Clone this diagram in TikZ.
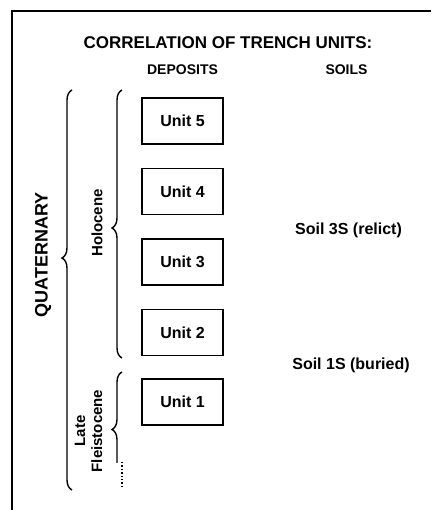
\documentclass[tikz,border=0pt]{standalone}
\usepackage{fontspec}
\setmainfont{Liberation Sans}
\usetikzlibrary{decorations.pathreplacing}

\begin{document}
\begin{tikzpicture}
    [x=1pt,y=1pt,
     epoch/.style={decorate,decoration={brace,amplitude=10pt},line width=1.4pt},
     unitbox/.style={draw,line width=1.6pt,minimum width=81pt,minimum height=46pt}]
\useasboundingbox (0,0) rectangle (431,-510);
\draw
    [line width=2pt]
    (12,-510) -- (12,-11) -- (431,-11);

\path
    [font=\bfseries\fontsize{14}{17}\selectfont]
    (228,-43) node [font=\bfseries\fontsize{17}{20}\selectfont] (title)
	{CORRELATION OF TRENCH UNITS:}
    (182.5,-70) node (deposits) {DEPOSITS}
    (346.5,-70) node (soils) {SOILS};

\path
    [font=\bfseries\fontsize{16}{19}\selectfont,below]
    (182.5,-97) node [unitbox] (unit5) {Unit 5}
    (unit5.south) ++(0,-23) node [unitbox] (unit4) {Unit 4}
    (unit4.south) ++(0,-23) node [unitbox] (unit3) {Unit 3}
    (unit3.south) ++(0,-23) node [unitbox] (unit2) {Unit 2}
    (unit2.south) ++(0,-22) node [unitbox] (unit1) {Unit 1};
\path
    [font=\bfseries\fontsize{16}{19}\selectfont]
    (348.5,-230) node (relict) {Soil 3S (relict)}
    (351,-365) node (buried) {Soil 1S (buried)};

\path
    (72,-490) coordinate (qbot)
    (72,-90) coordinate (qtop)
    (122,-358) coordinate (hbot)
    (122,-90) coordinate (htop)
    (122,-487) coordinate (lbot)
    (122,-462) coordinate (lcut)
    (122,-372) coordinate (ltop);
\draw [epoch,decoration={aspect=0.58}] (qbot) -- (qtop);
\draw [epoch,decoration={aspect=0.485}] (hbot) -- (htop);
\begin{scope}
    \clip (100,-365) rectangle (140,-462);
    \draw [epoch,decoration={aspect=0.5}] (lbot) -- (ltop);
\end{scope}
\draw [line width=1.4pt,dotted] (lcut) -- (lbot);

\path
    [font=\bfseries\fontsize{15}{17}\selectfont,nodes={rotate=90}]
    (43,-255) node [font=\bfseries\fontsize{18}{21}\selectfont] (quaternary)
	{QUATERNARY}
    (97,-223) node (holocene) {Holocene}
    (88.5,-431) node [align=center] (pleist) {Late\\Fleistocene};
\end{tikzpicture}
\end{document}
